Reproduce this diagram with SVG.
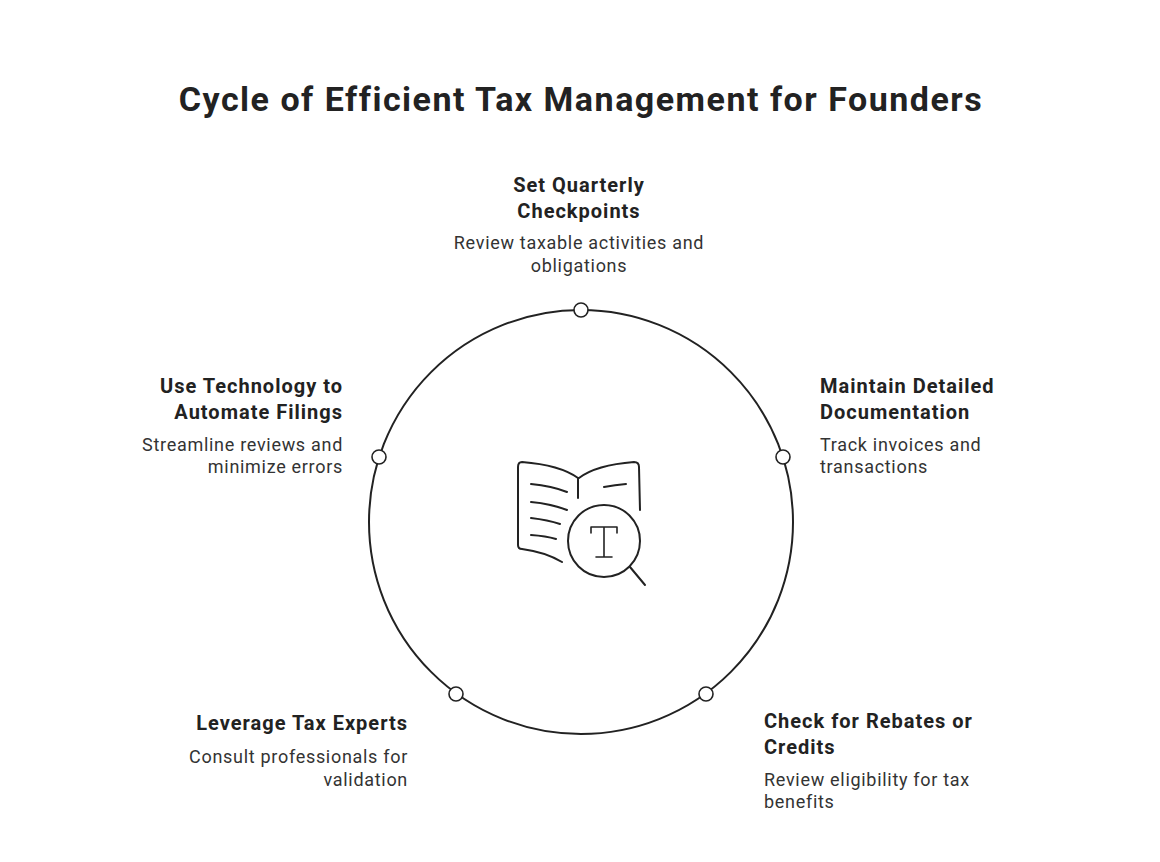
<svg xmlns="http://www.w3.org/2000/svg" width="1160" height="862" viewBox="0 0 1160 862">
<style>
.t{font-family:Roboto,"Liberation Sans",sans-serif;font-weight:700;font-size:20px;letter-spacing:1px;fill:#222}
.d{font-family:Roboto,"Liberation Sans",sans-serif;font-size:18px;letter-spacing:0.7px;fill:#333}
.dot{fill:#fff;stroke:#222;stroke-width:1.6}
.ic{fill:none;stroke:#222;stroke-width:2;stroke-linecap:round;stroke-linejoin:round}
</style>
<rect width="1160" height="862" fill="#fff"/>
<text x="581" y="111" text-anchor="middle" font-family="Roboto,'Liberation Sans',sans-serif" font-weight="700" font-size="34" letter-spacing="1.5" fill="#222">Cycle of Efficient Tax Management for Founders</text>
<g id="connectors"><circle cx="581" cy="522" r="212" fill="none" stroke="#222" stroke-width="2"/></g>
<g id="icon" class="ic">
<path d="M578,478 Q560,465 522,462 Q518,462 518,467 L518,545 Q518,549 522,549 Q545,552 562,562"/>
<path d="M578,478 L578,498"/>
<path d="M579,478 Q596,465 634,462 Q639,462 639,467 L640,510"/>
<path d="M531,484 Q552,486 567,492 M531,502 Q552,504 567,510 M531,518 Q548,520 560,524 M531,535 Q546,536 556,539 M604,487 Q615,485 626,484"/>
<circle cx="604" cy="541" r="36"/>
<path d="M630,567 L645,585"/>
<path d="M591,533 L591,527 L617,527 L617,533 M604,527 L604,557 M596,557 L612,557" stroke-width="1.6"/>
</g>
<g id="n1"><circle class="dot" cx="581" cy="310" r="7"/>
<text class="t" text-anchor="middle"><tspan x="579" y="192">Set Quarterly</tspan><tspan x="579" y="218">Checkpoints</tspan></text>
<text class="d" text-anchor="middle"><tspan x="579" y="249">Review taxable activities and</tspan><tspan x="579" y="272">obligations</tspan></text></g>
<g id="n2"><circle class="dot" cx="783" cy="457" r="7"/>
<text class="t"><tspan x="820" y="393">Maintain Detailed</tspan><tspan x="820" y="419">Documentation</tspan></text>
<text class="d"><tspan x="820" y="451">Track invoices and</tspan><tspan x="820" y="473">transactions</tspan></text></g>
<g id="n3"><circle class="dot" cx="706" cy="694" r="7"/>
<text class="t"><tspan x="764" y="728">Check for Rebates or</tspan><tspan x="764" y="754">Credits</tspan></text>
<text class="d"><tspan x="764" y="786">Review eligibility for tax</tspan><tspan x="764" y="808">benefits</tspan></text></g>
<g id="n4"><circle class="dot" cx="456" cy="694" r="7"/>
<text class="t" text-anchor="end"><tspan x="408" y="730">Leverage Tax Experts</tspan></text>
<text class="d" text-anchor="end"><tspan x="408" y="763">Consult professionals for</tspan><tspan x="408" y="786">validation</tspan></text></g>
<g id="n5"><circle class="dot" cx="379" cy="457" r="7"/>
<text class="t" text-anchor="end"><tspan x="343" y="393">Use Technology to</tspan><tspan x="343" y="419">Automate Filings</tspan></text>
<text class="d" text-anchor="end"><tspan x="343" y="451">Streamline reviews and</tspan><tspan x="343" y="473">minimize errors</tspan></text></g>
</svg>
